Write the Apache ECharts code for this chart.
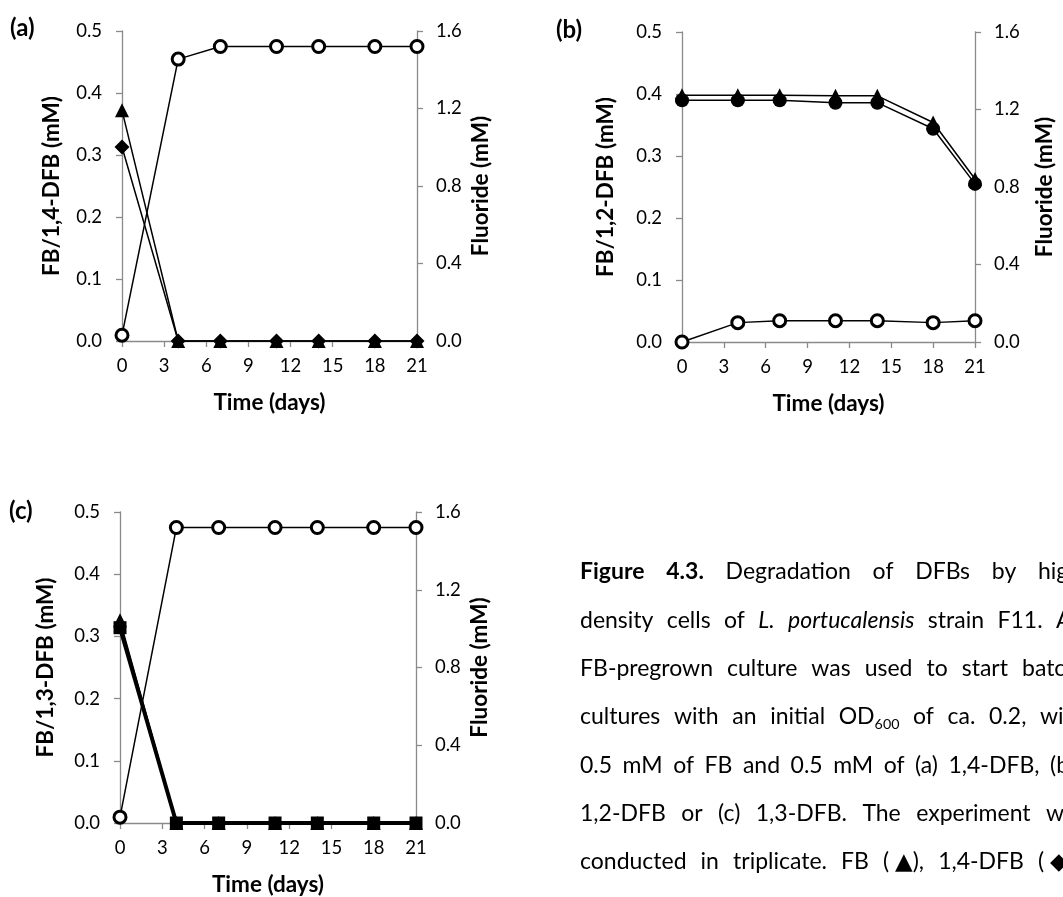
<!DOCTYPE html>
<html><head><meta charset="utf-8">
<script src="https://cdn.jsdelivr.net/npm/echarts@6/dist/echarts.min.js"></script>
<style>html,body{margin:0;padding:0;background:#fff}#c{width:1063px;height:897px}</style>
</head><body><div id="c"></div>
<script>
// ---------------- data ----------------
const days = [0, 4, 7, 11, 14, 18, 21];
// Panel (a): FB + 1,4-DFB
const fbA = [0.372, 0, 0, 0, 0, 0, 0];
const dfb14A = [0.313, 0, 0, 0, 0, 0, 0];
const fluorideA = [0.03, 1.455, 1.52, 1.52, 1.52, 1.52, 1.52];
// Panel (b): FB + 1,2-DFB
const fbB = [0.398, 0.398, 0.398, 0.397, 0.397, 0.354, 0.263];
const dfb12B = [0.390, 0.390, 0.390, 0.386, 0.386, 0.344, 0.255];
const fluorideB = [0.0, 0.10, 0.11, 0.11, 0.11, 0.10, 0.11];
// Panel (c): FB + 1,3-DFB
const fbC = [0.326, 0, 0, 0, 0, 0, 0];
const dfb13C = [0.314, 0, 0, 0, 0, 0, 0];
const fluorideC = [0.03, 1.52, 1.52, 1.52, 1.52, 1.52, 1.52];

const panelLabels = ['(a)', '(b)', '(c)'];
const leftAxisNames = ['FB/1,4-DFB (mM)', 'FB/1,2-DFB (mM)', 'FB/1,3-DFB (mM)'];
const rightAxisName = 'Fluoride (mM)';
const xAxisName = 'Time (days)';
const xScale = { min: 0, max: 21, interval: 3 };
const leftScale = { min: 0, max: 0.5, interval: 0.1 };
const rightScale = { min: 0, max: 1.6, interval: 0.4 };

// caption lines: [word, style] (b = bold, i = italic, s = subscript suffix)
const captionLines = [
  [['Figure', 'b'], ['4.3.', 'b'], ['Degradation'], ['of'], ['DFBs'], ['by'], ['high-']],
  [['density'], ['cells'], ['of'], ['L.', 'i'], ['portucalensis', 'i'], ['strain'], ['F11.'], ['A']],
  [['FB-pregrown'], ['culture'], ['was'], ['used'], ['to'], ['start'], ['batch']],
  [['cultures'], ['with'], ['an'], ['initial'], ['OD', 's', '600'], ['of'], ['ca.'], ['0.2,'], ['with']],
  [['0.5'], ['mM'], ['of'], ['FB'], ['and'], ['0.5'], ['mM'], ['of'], ['(a)'], ['1,4-DFB,'], ['(b)']],
  [['1,2-DFB'], ['or'], ['(c)'], ['1,3-DFB.'], ['The'], ['experiment'], ['was']],
  [['conducted'], ['in'], ['triplicate.'], ['FB'], ['( \u25B2),'], ['1,4-DFB'], ['( \u25C6),']]
];
// ---------------- layout ----------------
const FONT = 'Lato, "DejaVu Sans", sans-serif';
const grids = [
  { left: 122, top: 31, width: 295, height: 310 },
  { left: 682, top: 32, width: 293, height: 310 },
  { left: 120, top: 512, width: 296, height: 311 }
];
const leftNameGap = [59, 65, 63];
const rightNameGap = [52, 58, 52];
const labelPos = [[10, 28], [556, 30], [9, 511]];
// [word index, x where that word starts] for each caption line (justified text)
const capAnchors = [[6, 1038], [7, 1056], [6, 1022], [8, 1040], [10, 1050], [6, 1046], [6, 1038]];
const CAP = { x0: 580, y0: 572, dy: 48.3, size: 23 };

const axisColor = '#8a8a8a';
const tickFont = 18.5, nameFont = 22.5;

const xAxes = [], yAxes = [], series = [];
grids.forEach((g, p) => {
  xAxes.push({
    type: 'value', gridIndex: p, min: xScale.min, max: xScale.max, interval: xScale.interval,
    position: 'bottom',
    axisLine: { onZero: false, lineStyle: { color: axisColor, width: 1.3 } },
    axisTick: { show: true, length: 6, lineStyle: { color: axisColor, width: 1.3 } },
    axisLabel: { color: '#000', fontSize: tickFont, fontFamily: FONT, margin: 16 },
    splitLine: { show: false },
    name: xAxisName, nameLocation: 'middle', nameGap: 50,
    nameTextStyle: { color: '#000', fontSize: nameFont, fontWeight: 'bold', fontFamily: FONT }
  });
  yAxes.push({
    type: 'value', gridIndex: p, position: 'left', min: leftScale.min, max: leftScale.max, interval: leftScale.interval,
    axisLine: { show: true, onZero: false, lineStyle: { color: axisColor, width: 1.3 } },
    axisTick: { show: true, length: 6, lineStyle: { color: axisColor, width: 1.3 } },
    axisLabel: { color: '#000', fontSize: tickFont, fontFamily: FONT, margin: 20, formatter: v => v.toFixed(1) },
    splitLine: { show: false },
    name: leftAxisNames[p], nameLocation: 'middle', nameGap: leftNameGap[p],
    nameTextStyle: { color: '#000', fontSize: nameFont, fontWeight: 'bold', fontFamily: FONT }
  });
  yAxes.push({
    type: 'value', gridIndex: p, position: 'right', min: rightScale.min, max: rightScale.max, interval: rightScale.interval,
    axisLine: { show: true, onZero: false, lineStyle: { color: axisColor, width: 1.3 } },
    axisTick: { show: true, length: 6, lineStyle: { color: axisColor, width: 1.3 } },
    axisLabel: { color: '#000', fontSize: tickFont, fontFamily: FONT, margin: 19, formatter: v => v.toFixed(1) },
    splitLine: { show: false },
    name: rightAxisName, nameLocation: 'middle', nameGap: rightNameGap[p],
    nameTextStyle: { color: '#000', fontSize: nameFont, fontWeight: 'bold', fontFamily: FONT }
  });
});

const pts = arr => days.map((d, i) => [d, arr[i]]);
function lineSeries(p, right, arr, symbol, size, opts) {
  opts = opts || {};
  return {
    type: 'line', xAxisIndex: p, yAxisIndex: 2 * p + (right ? 1 : 0), data: pts(arr),
    symbol: symbol, symbolSize: size, showSymbol: true, clip: false, silent: true,
    emphasis: { disabled: true }, animation: false,
    lineStyle: { color: '#000', width: opts.lw || 1.5 },
    itemStyle: opts.open ? { color: '#fff', borderColor: '#000', borderWidth: 3 } : { color: '#000' },
    z: opts.z || 2
  };
}
// panel a
series.push(lineSeries(0, false, dfb14A, 'diamond', 15));
series.push(lineSeries(0, false, fbA, 'triangle', 14));
series.push(lineSeries(0, true, fluorideA, 'circle', 12, { open: true, z: 3 }));
// panel b
series.push(lineSeries(1, false, fbB, 'triangle', 14));
series.push(lineSeries(1, false, dfb12B, 'circle', 14));
series.push(lineSeries(1, true, fluorideB, 'circle', 12, { open: true, z: 3 }));
// panel c
series.push(lineSeries(2, false, fbC, 'triangle', 14));
series.push(lineSeries(2, false, dfb13C, 'rect', 13, { lw: 4 }));
series.push(lineSeries(2, true, fluorideC, 'circle', 12, { open: true, z: 3 }));

// ---------------- graphics: panel letters and caption ----------------
const graphic = [];
panelLabels.forEach((t, i) => {
  graphic.push({ type: 'text', x: labelPos[i][0], y: labelPos[i][1], silent: true,
    style: { text: t, fill: '#000', fontSize: 24, fontWeight: 'bold', fontFamily: FONT, align: 'left', verticalAlign: 'middle' } });
});
const ctx = document.createElement('canvas').getContext('2d');
function fontStr(st, size) {
  return (st === 'i' ? 'italic ' : '') + (st === 'b' ? 'bold ' : '') + size + 'px ' + FONT;
}
function wordWidth(w) {
  ctx.font = fontStr(w[1], CAP.size);
  let wd = ctx.measureText(w[0]).width;
  if (w[1] === 's') { ctx.font = fontStr('', CAP.size * 0.62); wd += ctx.measureText(w[2]).width; }
  return wd;
}
captionLines.forEach((line, li) => {
  const widths = line.map(wordWidth);
  const [ai, ax] = capAnchors[li];
  let before = 0; for (let k = 0; k < ai; k++) before += widths[k];
  const gap = (ax - CAP.x0 - before) / ai;
  let x = CAP.x0;
  const y = CAP.y0 + li * CAP.dy;
  line.forEach((w, k) => {
    const st = w[1];
    graphic.push({ type: 'text', x: x, y: y, silent: true,
      style: { text: w[0], fill: '#000', fontSize: CAP.size, fontFamily: FONT,
        fontWeight: st === 'b' ? 'bold' : 'normal', fontStyle: st === 'i' ? 'italic' : 'normal',
        align: 'left', verticalAlign: 'middle' } });
    if (st === 's') {
      ctx.font = fontStr('', CAP.size);
      const w0 = ctx.measureText(w[0]).width;
      graphic.push({ type: 'text', x: x + w0, y: y + 7, silent: true,
        style: { text: w[2], fill: '#000', fontSize: CAP.size * 0.62, fontFamily: FONT, align: 'left', verticalAlign: 'middle' } });
    }
    x += widths[k] + gap;
  });
});

const chart = echarts.init(document.getElementById('c'), null, { renderer: 'canvas' });
chart.setOption({
  animation: false,
  backgroundColor: '#fff',
  grid: grids,
  xAxis: xAxes,
  yAxis: yAxes,
  series: series,
  graphic: graphic
});
</script></body></html>
